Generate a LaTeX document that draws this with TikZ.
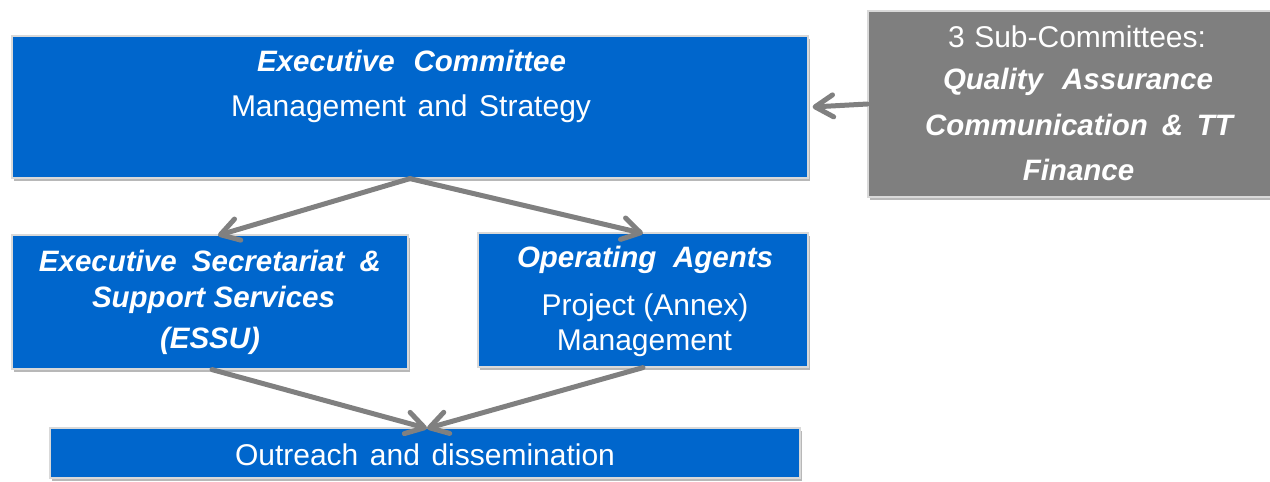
\documentclass[tikz,border=0pt]{standalone}
\usepackage{fontspec}
\setmainfont{Liberation Sans}
\usetikzlibrary{arrows.meta,shadows}
\definecolor{boxblue}{HTML}{0066CC}
\definecolor{boxgray}{HTML}{7F7F7F}
\definecolor{arrowgray}{HTML}{808080}
\definecolor{edgegray}{HTML}{D9D9D9}
% line of text set to a given width (pt) by stretching the word spaces
\newcommand{\fitline}[2]{\hbox to #1pt{\spaceskip=0.278em plus 1fil minus 0.1em\relax #2}}
\tikzset{
  box/.style={rectangle, inner sep=0pt, draw=edgegray, line width=0.6pt,
    drop shadow={shadow xshift=1.2pt, shadow yshift=-1.4pt, fill=black, opacity=0.28}},
  bluebox/.style={box, fill=boxblue},
  graybox/.style={box, fill=boxgray},
  txt/.style={text=white, inner sep=0pt, anchor=base, font=\fontsize{15}{15}\selectfont},
  btxt/.style={txt, font=\fontsize{14.75}{15}\selectfont\bfseries\itshape},
  conn/.style={draw=arrowgray, line width=2.5pt, line cap=round, line join=round,
    -{Straight Barb[length=9pt,width=11pt,line cap=round,line join=round]}}
}
\begin{document}
\begin{tikzpicture}[x=0.5pt,y=-0.5pt]
\useasboundingbox (0,0) rectangle (1270,482);
% boxes
\node[bluebox, minimum width=398pt, minimum height=71pt] (exec) at (410,107) {};
\node[graybox, minimum width=203pt, minimum height=93pt] (sub) at (1071,104) {};
\node[bluebox, minimum width=198pt, minimum height=67pt] (essu) at (210,302) {};
\node[bluebox, minimum width=165pt, minimum height=67pt] (oa) at (643,300) {};
\node[bluebox, minimum width=375pt, minimum height=25pt] (out) at (425,453) {};
% texts
\node[btxt] (t1) at (411.5,71.5) {\fitline{154.5}{Executive Committee}};
\node[txt] (t2) at (411,116) {\fitline{180}{Management and Strategy}};
\node[txt] (s1) at (1077,47) {\fitline{129}{3 Sub-Committees:}};
\node[btxt] (s2) at (1078,90) {\fitline{135}{Quality Assurance}};
\node[btxt] (s3) at (1079,135) {\fitline{154}{Communication \& TT}};
\node[btxt] (s4) at (1078.5,180) {Finance};
\node[btxt] (e1) at (210,271) {\fitline{171}{Executive Secretariat \&}};
\node[btxt] (e2) at (213.5,307) {\fitline{121.5}{Support Services}};
\node[btxt] (e3) at (210,348) {(ESSU)};
\node[btxt] (o1) at (645,267) {\fitline{128}{Operating Agents}};
\node[txt] (o2) at (645,315) {\fitline{103.5}{Project (Annex)}};
\node[txt] (o3) at (644.5,350) {Management};
\node[txt] (u1) at (425,465) {\fitline{190}{Outreach and dissemination}};
% connectors
\coordinate (exs) at (exec.south);
\draw[conn] (exs) -- ([xshift=4pt,yshift=-0.5pt]essu.north);
\draw[conn] (exs) -- ([yshift=-0.5pt]oa.north);
\draw[conn] ([xshift=1pt]essu.south) -- ([xshift=1pt,yshift=-0.5pt]out.north);
\draw[conn] (oa.south) -- ([xshift=1pt,yshift=-0.5pt]out.north);
\draw[conn] (sub.west) -- ([xshift=2pt]exec.east);
\end{tikzpicture}
\end{document}
